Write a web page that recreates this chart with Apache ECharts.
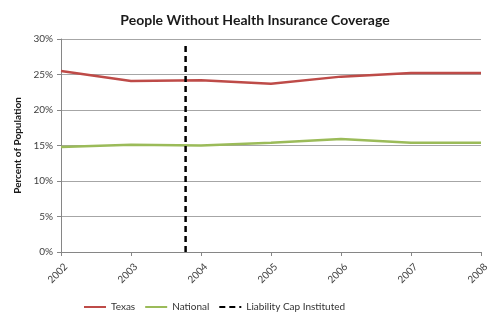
<!DOCTYPE html>
<html>
<head>
<meta charset="utf-8">
<script src="https://cdn.jsdelivr.net/npm/echarts@6/dist/echarts.min.js"></script>
<style>html,body{margin:0;padding:0;background:#fff}#c{width:500px;height:322px}</style>
</head>
<body>
<div id="c"></div>
<script>
var years = [2002, 2003, 2004, 2005, 2006, 2007, 2008];
var texas = [25.5, 24.1, 24.2, 23.7, 24.7, 25.2, 25.2];
var national = [14.8, 15.1, 15.0, 15.4, 15.9, 15.4, 15.4];
var capYear = 2003.78;
var capRange = [0, 29.3];
var yTicks = [0, 5, 10, 15, 20, 25, 30];

var chart = echarts.init(document.getElementById('c'));
var font = 'Lato, "Open Sans", sans-serif';
chart.setOption({
  animation: false,
  textStyle: { fontFamily: font },
  title: {
    text: 'People Without Health Insurance Coverage',
    left: 250, top: 8, textAlign: 'center',
    textStyle: { fontFamily: font, fontSize: 14, fontWeight: 'bold', color: '#1a1a1a' }
  },
  grid: { left: 61, right: 19, top: 39, bottom: 70 },
  legend: {
    bottom: 5, left: 78,
    itemWidth: 22, itemHeight: 10, itemGap: 9,
    itemStyle: { opacity: 0 },
    textStyle: { fontFamily: font, fontSize: 10, color: '#333' },
    data: ['Texas', 'National', 'Liability Cap Instituted']
  },
  xAxis: {
    type: 'value', min: years[0], max: years[years.length - 1], interval: 1,
    axisLine: { lineStyle: { color: '#868686', width: 1 } },
    axisTick: { show: true, length: 4, lineStyle: { color: '#868686' } },
    splitLine: { show: false },
    axisLabel: { rotate: 45, fontSize: 10, color: '#404040', margin: 18, padding: [0, -7, 0, 0],
      formatter: function (v) { return String(v); } }
  },
  yAxis: {
    type: 'value', min: yTicks[0], max: yTicks[yTicks.length - 1], interval: 5,
    name: 'Percent of Population', nameLocation: 'middle', nameGap: 37,
    nameTextStyle: { fontFamily: font, fontSize: 10, fontWeight: 'bold', color: '#1a1a1a' },
    axisLine: { show: true, lineStyle: { color: '#868686' } },
    axisTick: { show: true, length: 4, lineStyle: { color: '#868686' } },
    splitLine: { lineStyle: { color: '#a6a6a6', width: 1 } },
    axisLabel: { fontSize: 10, color: '#404040', margin: 8, formatter: '{value}%' }
  },
  series: [
    { name: 'Texas', type: 'line', symbol: 'none', color: '#BE4B48',
      lineStyle: { width: 2.5, color: '#BE4B48' },
      data: years.map(function (y, i) { return [y, texas[i]]; }) },
    { name: 'National', type: 'line', symbol: 'none', color: '#9BBB59',
      lineStyle: { width: 2.5, color: '#9BBB59' },
      data: years.map(function (y, i) { return [y, national[i]]; }) },
    { name: 'Liability Cap Instituted', type: 'line', symbol: 'none', color: '#000',
      lineStyle: { width: 2.5, color: '#000', type: [6, 4] },
      data: [[capYear, capRange[0]], [capYear, capRange[1]]] }
  ]
});
</script>
</body>
</html>
